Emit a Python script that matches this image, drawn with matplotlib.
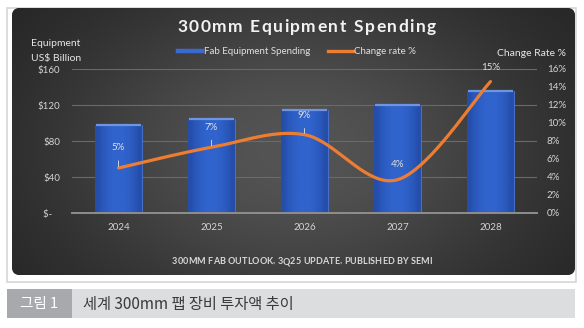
import numpy as np
import matplotlib
matplotlib.use('Agg')
import matplotlib.pyplot as plt
from matplotlib.patches import FancyBboxPatch, Rectangle
from matplotlib.lines import Line2D

# ---------------- data ----------------
years = ['2024', '2025', '2026', '2027', '2028']
spending = [98, 105, 115, 120, 136]            # US$ billion
change_rate = [5.0, 7.3, 8.7, 3.7, 14.6]       # %
rate_labels = ['5%', '7%', '9%', '4%', '15%']
left_ticks = [0, 40, 80, 120, 160]
left_tick_labels = ['$-   ', '$40', '$80', '$120', '$160']
right_ticks = [0, 2, 4, 6, 8, 10, 12, 14, 16]
right_tick_labels = ['0%', '2%', '4%', '6%', '8%', '10%', '12%', '14%', '16%']
title = '300mm Equipment Spending'
footer = '300MM FAB OUTLOOK, 3Q25 UPDATE, PUBLISHED BY SEMI'
caption_tag = '그림 1'
caption = '세계 300mm 팹 장비 투자액 추이'

FONT = 'Lato'
W, H = 584, 328
fig = plt.figure(figsize=(W / 100, H / 100), dpi=100)
fig.patch.set_facecolor('white')

# background axes in pixel coordinates (y downwards)
bg = fig.add_axes([0, 0, 1, 1])
bg.set_xlim(0, W)
bg.set_ylim(H, 0)
bg.axis('off')

bg.add_patch(Rectangle((7, 8), 569, 274, facecolor='white', edgecolor='#d6d6d6', lw=1.2))
panel = FancyBboxPatch((12, 8), 563, 267, boxstyle='round,pad=0,rounding_size=8',
                       facecolor='#333333', edgecolor='none')
bg.add_patch(panel)
gx, gy = np.meshgrid(np.linspace(12, 575, 300), np.linspace(8, 275, 150))
d2 = ((gx - 295) / 300) ** 2 + ((gy - 150) / 200) ** 2
v = 0.12 + 0.21 * np.exp(-1.3 * d2)
img = np.dstack([v, v, v])
im = bg.imshow(img, extent=(12, 575, 275, 8), aspect='auto', interpolation='bilinear', zorder=1)
im.set_clip_path(panel)

# caption bar
bg.add_patch(Rectangle((7, 289), 568, 29, facecolor='#dcdddf', edgecolor='none'))
bg.add_patch(Rectangle((7, 289), 65, 29, facecolor='#a7a9ac', edgecolor='none'))
bg.text(39.5, 304, caption_tag, color='white', fontsize=10.5, ha='center', va='center',
        family=['Noto Sans CJK KR', 'DejaVu Sans'])
bg.text(83, 304, caption, color='#3a3a3a', fontsize=11, ha='left', va='center',
        family=['Noto Sans CJK KR', 'DejaVu Sans'])

renderer = fig.canvas.get_renderer()


def text_width(s, **kw):
    t = bg.text(0, 0, s, **kw)
    w = t.get_window_extent(renderer).width
    t.remove()
    return w


def spaced_text(x0, x1, baseline, s, **kw):
    bar = text_width('|', **kw)
    natural = text_width(s, **kw)
    sp = max((x1 - x0 - natural) / (len(s) - 1), 0)
    for i, ch in enumerate(s):
        if ch == ' ':
            continue
        pos = text_width(s[:i] + '|', **kw) - bar if i > 0 else 0
        bg.text(x0 + pos + i * sp, baseline, ch, ha='left', va='baseline', **kw)


spaced_text(177, 436, 32, title, color='#f2f2f2', fontsize=12.5, fontweight='bold', family=FONT)
spaced_text(172, 432, 264, footer, color='#d8d8d8', fontsize=6.5, fontweight='bold', family=FONT)

lab_kw = dict(color='#e6e6e6', fontsize=7.5, family=FONT, ha='center', va='center')
bg.text(56, 44, 'Equipment', **lab_kw)
bg.text(56, 58, 'US$ Billion', **lab_kw)
bg.text(531.5, 53, 'Change Rate %', **lab_kw)

# ---------------- chart ----------------
ax = fig.add_axes([72 / W, (H - 213) / H, 465 / W, 144 / H])
ax.set_facecolor('none')
x = np.arange(len(years)) + 0.5
ax.set_xlim(0, len(years))
ax.set_ylim(left_ticks[0], left_ticks[-1])
bars = ax.bar(x, spending, width=0.495, color='#2e5ec3', edgecolor='#4a76d2', lw=0.6, zorder=2)
prof = np.array([0.0, 0.5, 0.8, 1.0, 1.0, 1.0, 0.8, 0.5, 0.0])
c0 = np.array([0x24, 0x4e, 0xaa]) / 255
c1 = np.array([0x30, 0x63, 0xcc]) / 255
bimg = c0[None, None, :] + (c1 - c0)[None, None, :] * prof[None, :, None]
for b in bars:
    bi = ax.imshow(bimg, extent=(b.get_x(), b.get_x() + b.get_width(), 0, b.get_height()),
                   aspect='auto', interpolation='bilinear', zorder=2.1)
    bi.set_clip_path(b)
ax.hlines(spending, x - 0.24, x + 0.24, color='#6f95e0', lw=1.6, zorder=2.2)
ax.set_xlim(0, len(years))
ax.set_ylim(left_ticks[0], left_ticks[-1])

ax.set_yticks(left_ticks)
ax.set_yticklabels(left_tick_labels)
ax.set_xticks(x)
ax.set_xticklabels(years)
ax.set_axisbelow(True)
ax.yaxis.grid(True, color='#6a6a6a', lw=0.8)
ax.xaxis.grid(False)
for s in ['top', 'left', 'right']:
    ax.spines[s].set_visible(False)
ax.spines['bottom'].set_color('#8e8e8e')
ax.spines['bottom'].set_linewidth(1.4)
ax.tick_params(axis='both', length=0, colors='#d4d4d4', labelsize=7)
ax.tick_params(axis='y', pad=8.6)
ax.tick_params(axis='x', pad=7)
for t in ax.get_xticklabels() + ax.get_yticklabels():
    t.set_family(FONT)

ax2 = ax.twinx()
ax2.set_ylim(right_ticks[0], right_ticks[-1])
ax2.set_yticks(right_ticks)
ax2.set_yticklabels(right_tick_labels)
ax2.tick_params(axis='y', length=0, colors='#d4d4d4', labelsize=7, pad=7.2)
for t in ax2.get_yticklabels():
    t.set_family(FONT)
for s in ax2.spines.values():
    s.set_visible(False)

# smooth (Catmull-Rom / Excel style) line through the data points
px = np.asarray(x, float)
py = np.asarray(change_rate, float)
P = np.column_stack([px, py])
Pe = np.vstack([P[0], P, P[-1]])
curve = []
tt = np.linspace(0, 1, 40)
for i in range(len(P) - 1):
    p0, p1, p2, p3 = Pe[i], Pe[i + 1], Pe[i + 2], Pe[i + 3]
    b1 = p1 + (p2 - p0) / 6
    b2 = p2 - (p3 - p1) / 6
    seg = ((1 - tt) ** 3)[:, None] * p1 + (3 * (1 - tt) ** 2 * tt)[:, None] * b1 \
        + (3 * (1 - tt) * tt ** 2)[:, None] * b2 + (tt ** 3)[:, None] * p2
    curve.append(seg)
curve = np.vstack(curve)
ax2.plot(curve[:, 0], curve[:, 1], color='#ed7d31', lw=2.3, solid_capstyle='round', zorder=3)

offsets = [20, 20, 19, 15, 14]
leaders = [True, True, True, False, False]
for xi, yi, lab, off, lead in zip(x, change_rate, rate_labels, offsets, leaders):
    ap = dict(arrowstyle='-', color='#e0e0e0', lw=0.6, shrinkA=4, shrinkB=1) if lead else None
    ax2.annotate(lab, (xi, yi), xytext=(0, off * 0.72), textcoords='offset points',
                 ha='center', va='center', color='#e0e0e0', fontsize=7, family=FONT,
                 arrowprops=ap, zorder=4)

# legend
handles = [Line2D([], [], color='#3a6ad0', lw=3.2), Line2D([], [], color='#ed7d31', lw=2.4)]
leg = fig.legend(handles, ['Fab Equipment Spending', 'Change rate %'], loc='center',
                 bbox_to_anchor=(297 / W, 1 - 52 / H), ncol=2, frameon=False,
                 handlelength=2.5, handletextpad=0.15, columnspacing=1.9,
                 prop={'family': FONT, 'size': 7})
for t in leg.get_texts():
    t.set_color('#e0e0e0')

fig.savefig('out.png', dpi=100, facecolor='white')
